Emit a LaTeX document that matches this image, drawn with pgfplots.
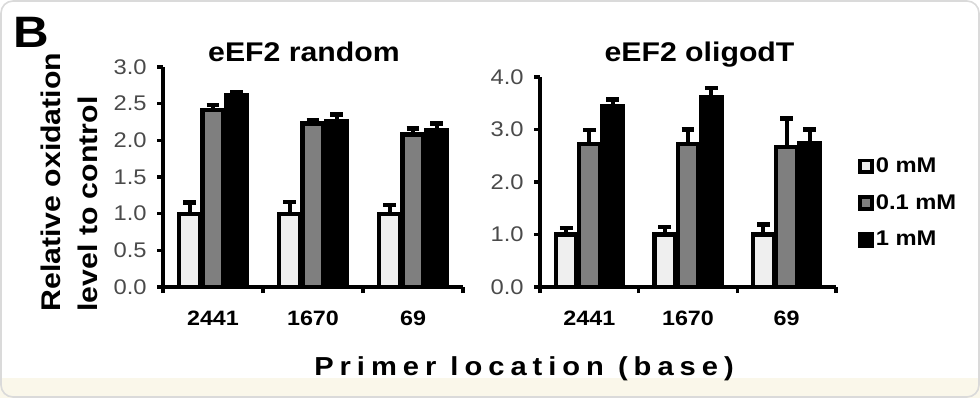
\documentclass[border=0pt]{standalone}
\usepackage{fontspec}
\setmainfont{Liberation Sans}[FakeStretch=1.12]
\usepackage{pgfplots}
\pgfplotsset{compat=1.18}
\definecolor{barwhite}{HTML}{EFEFEF}
\definecolor{bargray}{HTML}{7F7F7F}
\definecolor{ticklab}{HTML}{4A4A4A}
\definecolor{cream}{HTML}{FAF7EA}
\definecolor{framec}{HTML}{DADADA}
\pgfplotsset{
  errs/.style={error bars/.cd, y dir=plus, y explicit,
    error bar style={line width=2pt, black},
    error mark options={rotate=90, mark size=3.2pt, line width=2.2pt, black}},
  myaxis/.style={
    scale only axis, anchor=south west,
    xmin=-0.5, xmax=2.5, ymin=0,
    axis x line=bottom, axis y line=left,
    axis line style={-, line width=1.6pt, black},
    xtick={0,1,2}, xticklabels={2441,1670,69},
    minor xtick={-0.5,0.5,1.5,2.5},
    major x tick style={draw=none},
    minor x tick style={draw=black, line width=1.6pt},
    minor tick length=3pt,
    major tick length=3pt,
    tick align=outside,
    major y tick style={draw=black, line width=1.6pt},
    xticklabel style={font=\fontsize{10.4}{12}\selectfont\bfseries, inner sep=0pt, yshift=-9pt},
    yticklabel style={font=\fontsize{10.6}{12}\selectfont, text=ticklab, inner sep=0pt, xshift=-5pt,
      /pgf/number format/.cd, fixed, fixed zerofill, precision=1},
    /pgf/number format/assume math mode=true,
    ybar,
    bar width=0.21,
    every axis plot post/.append style={draw=black, line width=2.1pt,
      legend image code/.code={\draw[#1, line width=1.9pt] (0pt,-2.9pt) rectangle (5.8pt,2.9pt);}},
  }
}
\begin{document}
\begin{tikzpicture}
\useasboundingbox (0,0) rectangle (490pt,199pt);
\fill[cream] (0,0) rectangle (490pt,10pt);
\draw[framec, line width=0.8pt, rounded corners=6pt] (0.5pt,0.5pt) rectangle (489.5pt,198.5pt);

% left panel
\begin{axis}[myaxis, at={(81.5pt,55.5pt)}, width=150pt, height=110pt,
  ymax=3, ytick={0,0.5,1,1.5,2,2.5,3}]
\addplot[fill=barwhite, bar shift=-0.235, errs] coordinates
  {(0,1.0) +- (0,0.15) (1,1.0) +- (0,0.16) (2,1.0) +- (0,0.12)};
\addplot[fill=bargray, bar shift=0, errs] coordinates
  {(0,2.41) +- (0,0.07) (1,2.23) +- (0,0.05) (2,2.08) +- (0,0.08)};
\addplot[fill=black, bar shift=0.235, errs] coordinates
  {(0,2.62) +- (0,0.04) (1,2.26) +- (0,0.09) (2,2.14) +- (0,0.09)};
\end{axis}

% right panel
\begin{axis}[myaxis, at={(270pt,55.5pt)}, width=148pt, height=105pt,
  ymax=4, ytick={0,1,2,3,4},
  legend style={draw=none, fill=none, at={(1,0.5)}, anchor=west, xshift=11pt, yshift=-10.5pt,
    inner sep=0pt, row sep=7.5pt, font=\fontsize{10.6}{12}\selectfont\bfseries,
    nodes={inner sep=1pt}},
  legend cell align=left]
\addplot[fill=barwhite, bar shift=-0.235, errs] coordinates
  {(0,1.0) +- (0,0.12) (1,1.0) +- (0,0.14) (2,1.0) +- (0,0.19)};
\addplot[fill=bargray, bar shift=0, errs] coordinates
  {(0,2.72) +- (0,0.27) (1,2.72) +- (0,0.28) (2,2.67) +- (0,0.54)};
\addplot[fill=black, bar shift=0.235, errs] coordinates
  {(0,3.45) +- (0,0.12) (1,3.61) +- (0,0.18) (2,2.75) +- (0,0.25)};
\legend{0 mM, 0.1 mM, 1 mM}
\end{axis}

% texts
\node[anchor=base, inner sep=0pt, font=\fontsize{22}{24}\selectfont\bfseries] at (15.5pt,175.5pt) {B};
\node[anchor=base, inner sep=0pt, font=\fontsize{13.5}{15}\selectfont\bfseries] at (152pt,168.2pt) {eEF2 random};
\node[anchor=base, inner sep=0pt, font=\fontsize{13.5}{15}\selectfont\bfseries] at (349.75pt,168.2pt) {eEF2 oligodT};
\node[anchor=base west, rotate=90, inner sep=0pt, font=\fontsize{13.5}{15}\selectfont\bfseries] at (30pt,43pt) {Relative oxidation};
\node[anchor=base west, rotate=90, inner sep=0pt, font=\fontsize{13.5}{15}\selectfont\bfseries] at (48.5pt,43pt) {level to control};
\node[anchor=base, inner sep=0pt, font=\fontsize{13}{15}\selectfont\bfseries\addfontfeature{LetterSpace=23}] at (262pt,11.5pt) {Primer location (base)};
\end{tikzpicture}
\end{document}
